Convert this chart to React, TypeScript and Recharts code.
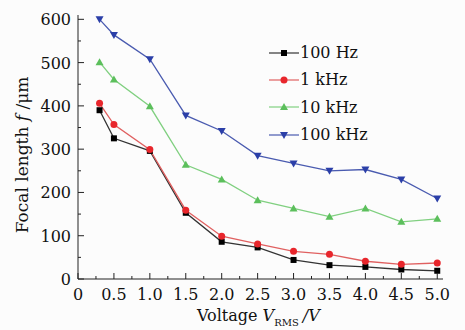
import { LineChart, Line, XAxis, YAxis, Legend } from "recharts";

const voltages = [0.3, 0.5, 1.0, 1.5, 2.0, 2.5, 3.0, 3.5, 4.0, 4.5, 5.0];
const f100Hz = [390, 325, 296, 153, 86, 73, 44, 32, 28, 22, 19];
const f1kHz = [406, 357, 299, 159, 99, 81, 64, 57, 41, 34, 37];
const f10kHz = [501, 461, 399, 264, 230, 182, 163, 144, 163, 132, 139];
const f100kHz = [600, 564, 508, 378, 342, 285, 267, 250, 253, 230, 186];

const xTicks = [0, 0.25, 0.5, 0.75, 1, 1.25, 1.5, 1.75, 2, 2.25, 2.5, 2.75, 3, 3.25, 3.5, 3.75, 4, 4.25, 4.5, 4.75, 5];
const yTicks = [0, 50, 100, 150, 200, 250, 300, 350, 400, 450, 500, 550, 600];

const data = voltages.map((v, i) => ({
  v,
  a: f100Hz[i],
  b: f1kHz[i],
  c: f10kHz[i],
  d: f100kHz[i],
}));

const FONT = "DejaVu Serif";
const INK = "#111";

const series = [
  { key: "a", name: "100 Hz", line: "#333", fill: "#000", shape: "square" },
  { key: "b", name: "1 kHz", line: "#e06060", fill: "#e8262c", shape: "circle" },
  { key: "c", name: "10 kHz", line: "#80d080", fill: "#5cbf5c", shape: "up" },
  { key: "d", name: "100 kHz", line: "#4a5bb0", fill: "#2b3fa8", shape: "down" },
];

function shapeAt(shape: string, cx: number, cy: number, fill: string, k?: any) {
  if (shape === "square")
    return <rect key={k} x={cx - 3} y={cy - 3} width={6} height={6} fill={fill} />;
  if (shape === "circle") return <circle key={k} cx={cx} cy={cy} r={3.5} fill={fill} />;
  if (shape === "up")
    return <path key={k} d={`M${cx},${cy - 4} L${cx + 4},${cy + 3} L${cx - 4},${cy + 3}Z`} fill={fill} />;
  return <path key={k} d={`M${cx},${cy + 4} L${cx + 4},${cy - 3} L${cx - 4},${cy - 3}Z`} fill={fill} />;
}

const XTick = (props: any) => {
  const { x, y, payload } = props;
  const v = payload.value;
  const major = Math.abs(v * 2 - Math.round(v * 2)) < 1e-6;
  return (
    <g>
      <line x1={x} x2={x} y1={y} y2={y - (major ? 6 : 3)} stroke="#222" />
      {major && (
        <text x={x} y={y + 21} textAnchor="middle" fontFamily={FONT} fontSize={16} fill={INK}>
          {v === 0 ? "0" : v.toFixed(1)}
        </text>
      )}
    </g>
  );
};

const YTick = (props: any) => {
  const { x, y, payload } = props;
  const v = payload.value;
  const major = v % 100 === 0;
  return (
    <g>
      <line x1={x} x2={x + (major ? 6 : 3)} y1={y} y2={y} stroke="#222" />
      {major && (
        <text x={x - 7} y={y + 6} textAnchor="end" fontFamily={FONT} fontSize={16} fill={INK}>
          {v}
        </text>
      )}
    </g>
  );
};

const renderLegend = () => (
  <div style={{ fontFamily: FONT, fontSize: 16, color: INK }}>
    {series.map((s) => (
      <div key={s.key} style={{ height: 27.3, display: "flex", alignItems: "center" }}>
        <svg width={31} height={12}>
          <line x1={0} x2={30} y1={6} y2={6} stroke={s.line} strokeWidth={1.2} />
          {shapeAt(s.shape, 15, 6, s.fill)}
        </svg>
        <span>{s.name}</span>
      </div>
    ))}
  </div>
);

export default function App() {
  return (
    <div style={{ position: "absolute", left: 0, top: 0, background: "#fcfcfc" }}>
      <LineChart
        width={465}
        height={330}
        data={data}
        margin={{ top: 15, right: 22, bottom: 0, left: 30 }}
      >
        <XAxis
          dataKey="v"
          type="number"
          domain={[0, 5.08]}
          ticks={xTicks}
          interval={0}
          height={51}
          tickSize={0}
          tickMargin={0}
          tickLine={false}
          tick={<XTick />}
          stroke="#222"
        />
        <YAxis
          type="number"
          domain={[0, 610]}
          ticks={yTicks}
          interval={0}
          width={48}
          tickSize={0}
          tickMargin={0}
          tickLine={false}
          tick={<YTick />}
          stroke="#222"
        />
        {series.map((s) => (
          <Line
            key={s.key}
            dataKey={s.key}
            name={s.name}
            type="linear"
            stroke={s.line}
            strokeWidth={1.3}
            isAnimationActive={false}
            dot={(p: any) => shapeAt(s.shape, p.cx, p.cy, s.fill, p.index)}
          />
        ))}
        <Legend
          layout="vertical"
          align="center"
          verticalAlign="middle"
          content={renderLegend}
          wrapperStyle={{ left: 269, top: 39, width: 130 }}
        />
        <text
          x={22}
          y={155}
          transform="rotate(-90 22 155)"
          textAnchor="middle"
          dominantBaseline="central"
          fontFamily={FONT}
          fontSize={17}
          fill={INK}
        >
          Focal length <tspan fontStyle="italic">f</tspan> /μm
        </text>
        <text x={197} y={321} fontFamily={FONT} fontSize={16} fill={INK}>
          Voltage <tspan fontStyle="italic">V</tspan>
          <tspan fontSize={10} dy={5}>RMS</tspan>
          <tspan dy={-5} fontStyle="italic" dx={4}>/V</tspan>
        </text>
      </LineChart>
    </div>
  );
}
